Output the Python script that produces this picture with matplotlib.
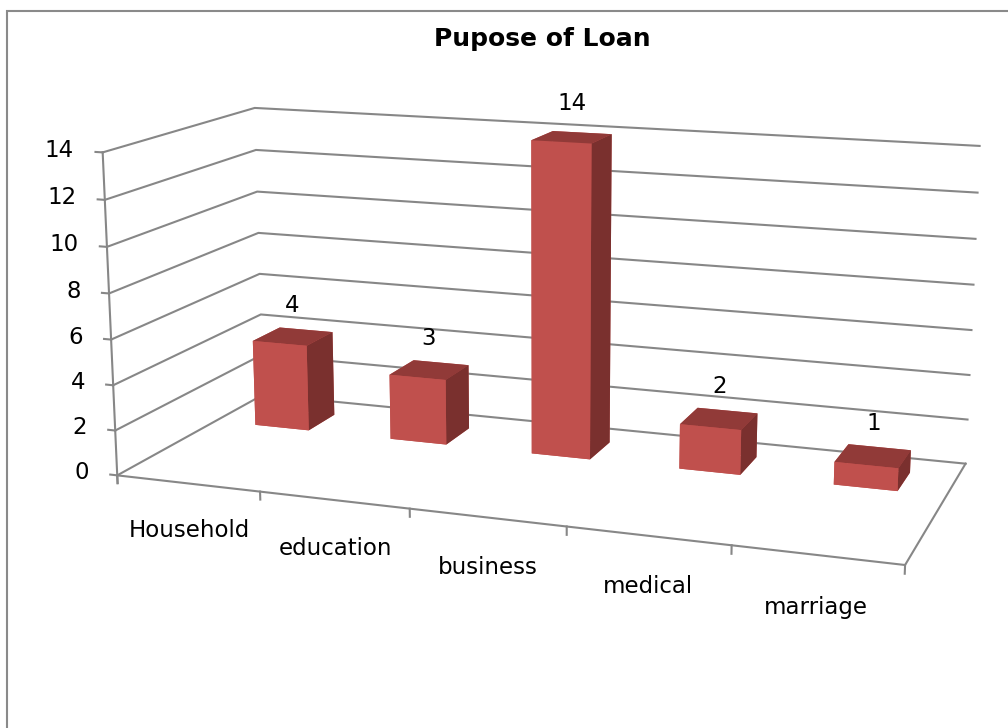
import numpy as np
import matplotlib.pyplot as plt
from matplotlib.patches import Rectangle

# loan purpose counts
categories = ['Household', 'education', 'business', 'medical', 'marriage']
counts = [4, 3, 14, 2, 1]
value_ticks = [0, 2, 4, 6, 8, 10, 12, 14]
title = 'Pupose of Loan'

grid_c = '#878787'
front_c = '#c0504d'
top_c = '#913a38'
side_c = '#7a302e'

n = len(categories)
depth = 2.05      # floor depth, in category widths
bar_w = 0.4
bar_d = 0.41
bar_y0 = 1.33

fig = plt.figure(figsize=(10.08, 7.28), dpi=100)
ax = fig.add_axes([0.0838, -0.0611, 0.8897, 1.2319], projection='3d',
                  computed_zorder=False)
ax.set_proj_type('persp', focal_length=0.467)
ax.set_box_aspect((0.3456, 0.1415, 0.1423), zoom=1.0)
ax.view_init(elev=13.2, azim=-70.4)
ax.set_xlim(0, n)
ax.set_ylim(0, depth)
ax.set_zlim(0, value_ticks[-1])
ax.set_axis_off()


def label_at(x, y, z, s, **kw):
    # put a flat 2D label where the 3D point lands on screen
    p = ax.get_proj() @ np.array([x, y, z, 1.0])
    return ax.text2D(p[0] / p[3], p[1] / p[3], s, transform=ax.transData,
                     fontsize=16.5, zorder=3, **kw)


line_kw = dict(color=grid_c, lw=1.5, zorder=1, clip_on=False)

# gridlines on left and back wall, plus value axis ticks and labels
for z in value_ticks:
    ax.plot([0, 0, n], [0, depth, depth], [z, z, z], **line_kw)
    ax.plot([-0.05, 0], [0, 0], [z, z], **line_kw)
    label_at(-0.2, 0, z, str(z), ha='right', va='center')
ax.plot([0, 0], [0, 0], [-0.35, value_ticks[-1]], **line_kw)

# floor front and right edges, category ticks
ax.plot([0, n, n], [0, 0, depth], [0, 0, 0], **line_kw)
for i in range(n + 1):
    ax.plot([i, i], [0, 0], [0, -0.35], **line_kw)

x_mid = np.arange(n) + 0.5
for xm, name in zip(x_mid, categories):
    label_at(xm, 0, -2.4, name, ha='center', va='baseline')

# columns: faces are bottom, top, front, back, left, right
face_cols = [front_c, top_c, front_c, front_c, front_c, side_c] * n
bars = ax.bar3d(x_mid - bar_w / 2, np.full(n, bar_y0), np.zeros(n),
                bar_w, bar_d, counts, color=face_cols, shade=False,
                edgecolor='none', linewidth=0, zorder=2)
bars.set_clip_on(False)

for xm, v in zip(x_mid, counts):
    label_at(xm, bar_y0 + bar_d / 2, v + 1.45, str(v), ha='center',
             va='center')

fig.text(542 / 1008, 1 - 39 / 728, title, ha='center', va='center',
         fontsize=18, fontweight='bold')

# chart frame
fig.patches.append(Rectangle((7 / 1008, -0.1), 1.2, 1.1 - 11 / 728,
                             transform=fig.transFigure, fill=False,
                             ec='#8a8a8a', lw=1.5))

fig.savefig('out.png', dpi=100)
